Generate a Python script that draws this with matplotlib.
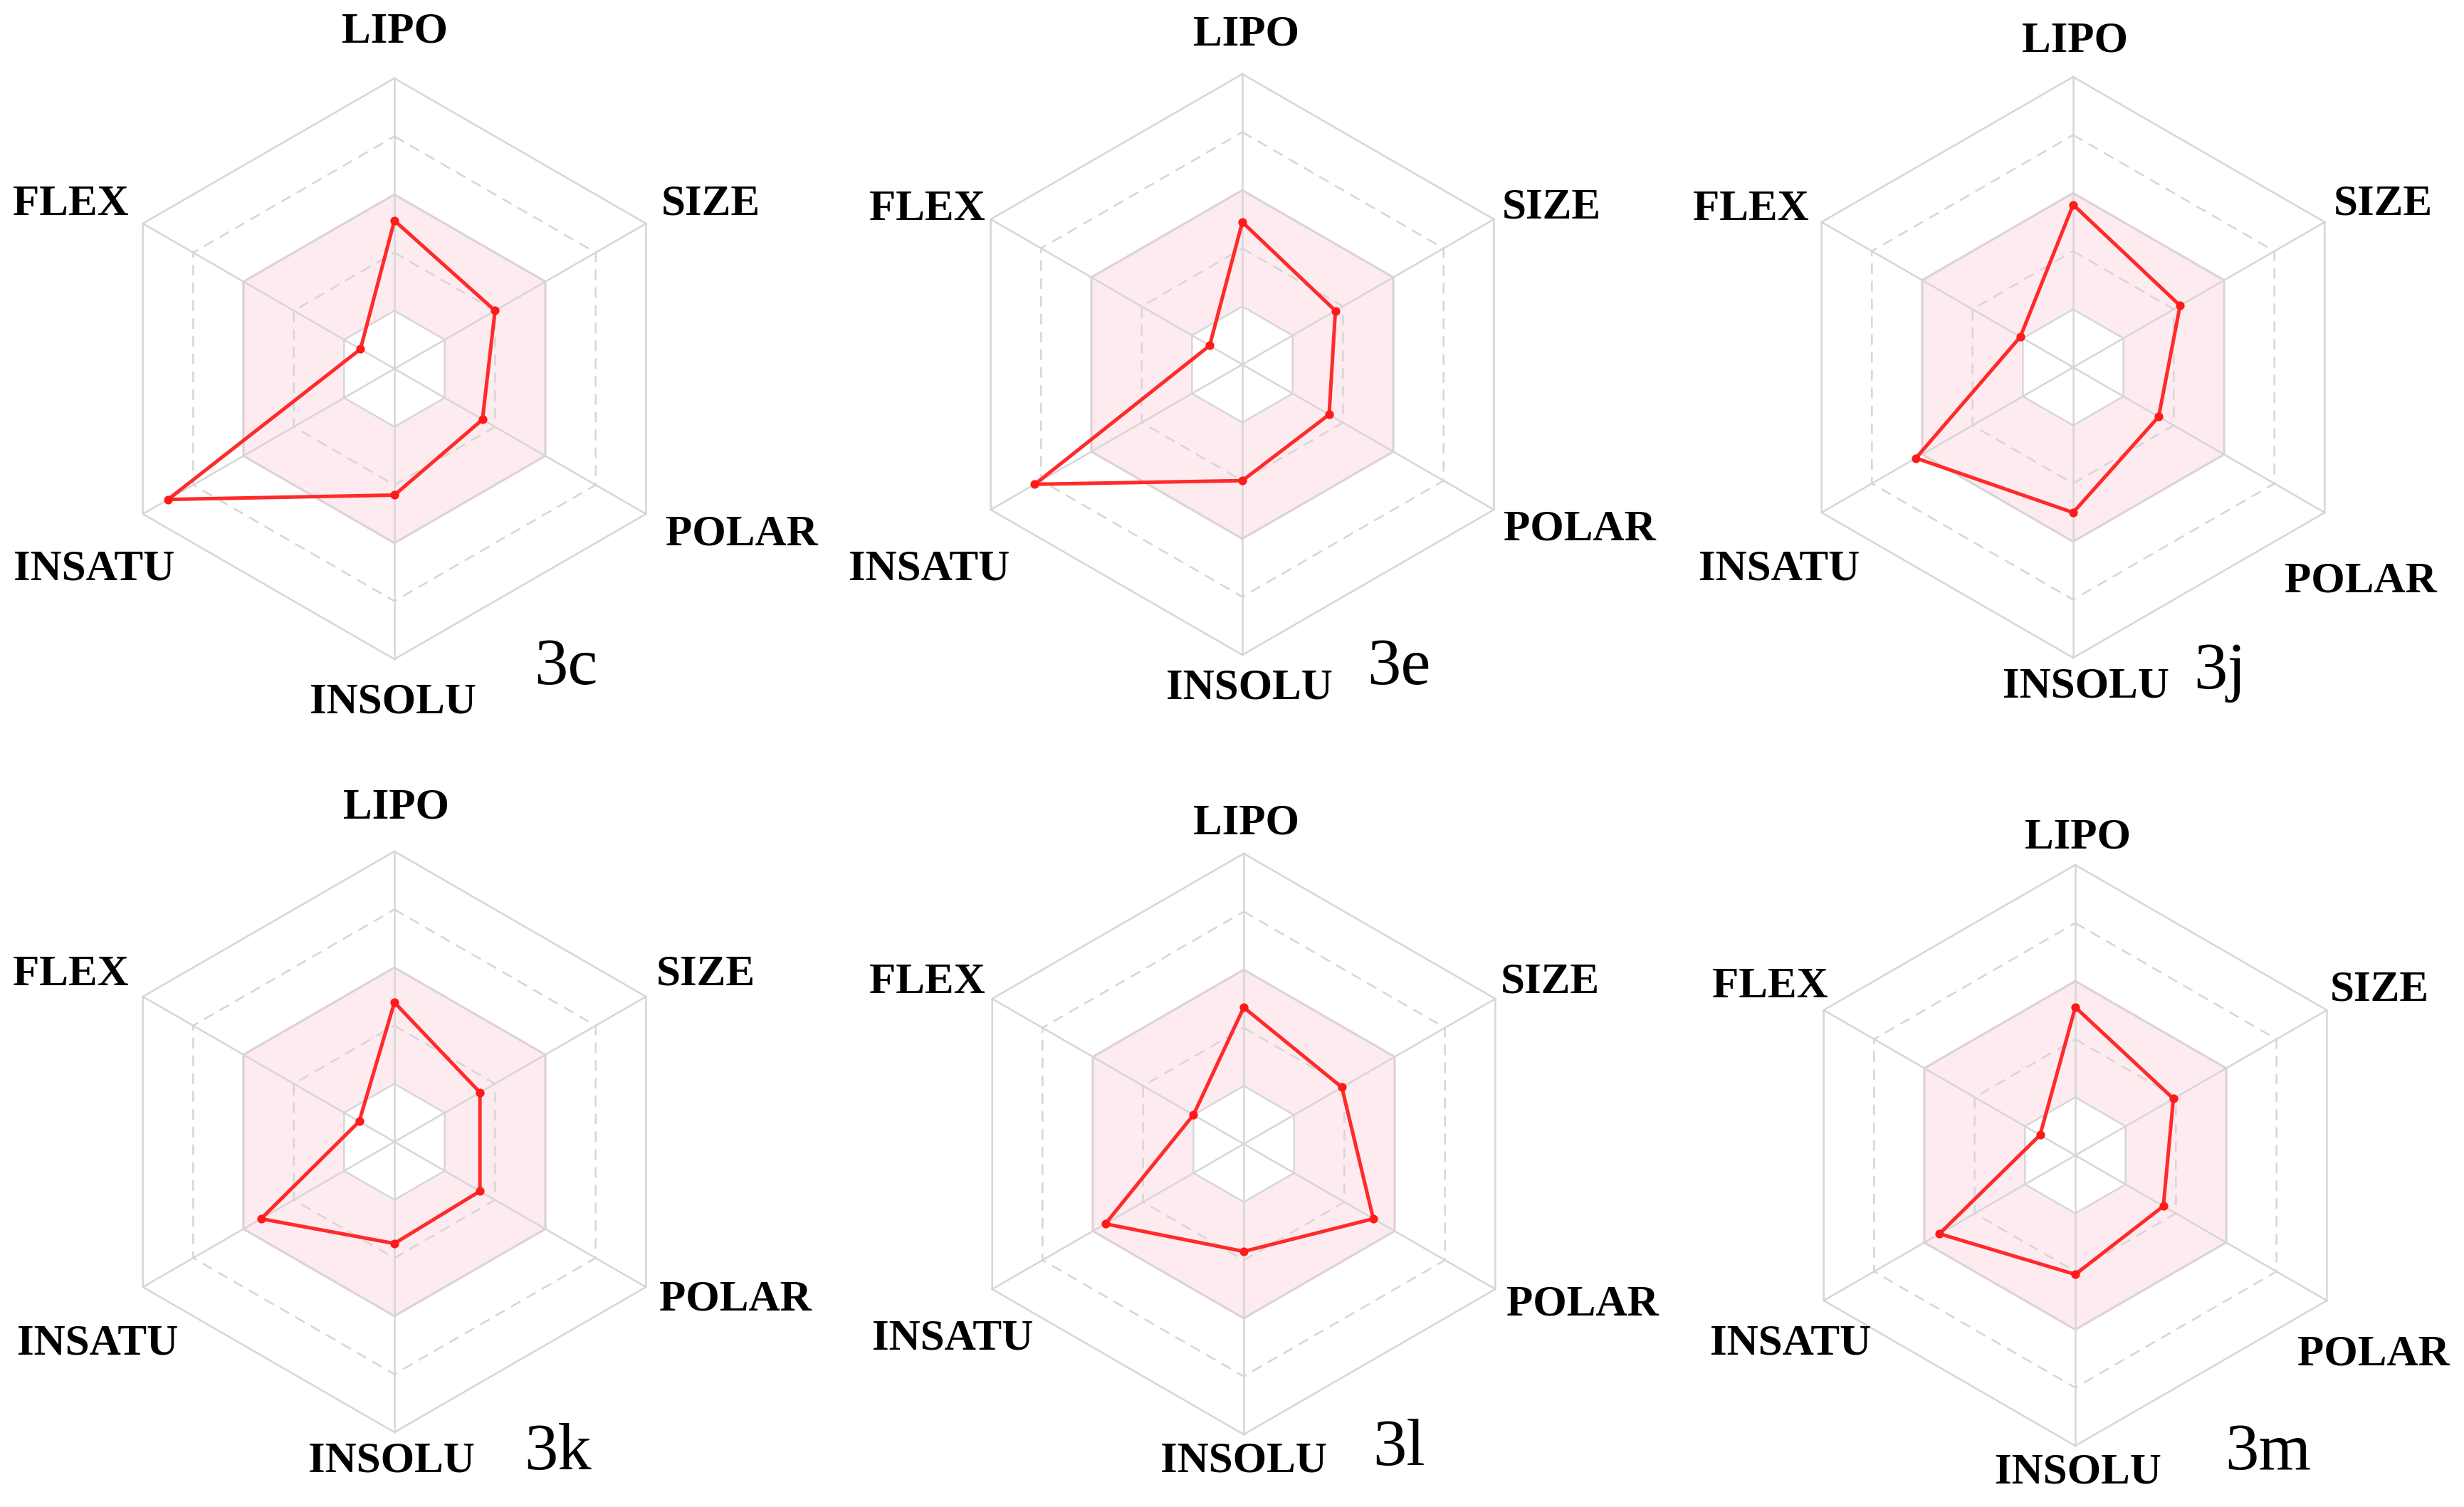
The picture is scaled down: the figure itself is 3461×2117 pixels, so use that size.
import numpy as np
import matplotlib
matplotlib.use("Agg")
import matplotlib.pyplot as plt

# Axes of the bioavailability radar (clockwise from top)
axes_names = ["LIPO", "SIZE", "POLAR", "INSOLU", "INSATU", "FLEX"]
angles_deg = [90, 30, -30, -90, -150, 150]

# Compound ids and values (fraction of the outer hexagon)
compounds = ["3c", "3e", "3j", "3k", "3l", "3m"]
val_3c = [0.51, 0.40, 0.35, 0.435, 0.90, 0.135]
val_3e = [0.49, 0.37, 0.345, 0.40, 0.825, 0.13]
val_3j = [0.56, 0.425, 0.34, 0.50, 0.625, 0.21]
val_3k = [0.48, 0.34, 0.34, 0.35, 0.53, 0.14]
val_3l = [0.47, 0.39, 0.515, 0.37, 0.55, 0.20]
val_3m = [0.51, 0.39, 0.35, 0.41, 0.54, 0.14]
values = [val_3c, val_3e, val_3j, val_3k, val_3l, val_3m]

# optimal range band and grid rings
band_inner, band_outer = 0.2, 0.6
rings = [0.2, 0.4, 0.6, 0.8, 1.0]

W, H = 3462, 2117
dpi = 200
fig = plt.figure(figsize=(W / dpi, H / dpi), dpi=dpi)

# panel centres in pixels and hexagon radius
centers = [(554, 518), (1745, 512), (2912, 516),
           (554, 1604), (1747, 1607), (2915, 1623)]
R = 408
L = 560

# label positions (reference pixels on a 1568x959 preview)
label_pos = [
    {"LIPO": (251, 20), "SIZE": (452, 130), "FLEX": (45, 130), "POLAR": (472, 340),
     "INSATU": (60, 362), "INSOLU": (250, 447), "id": (360, 425)},
    {"LIPO": (793, 22), "SIZE": (987, 132), "FLEX": (590, 133), "POLAR": (1005, 337),
     "INSATU": (591, 362), "INSOLU": (795, 438), "id": (890, 425)},
    {"LIPO": (1320, 26), "SIZE": (1516, 130), "FLEX": (1114, 133), "POLAR": (1502, 370),
     "INSATU": (1132, 362), "INSOLU": (1327, 437), "id": (1412, 428)},
    {"LIPO": (252, 514), "SIZE": (449, 620), "FLEX": (45, 620), "POLAR": (468, 827),
     "INSATU": (62, 855), "INSOLU": (249, 930), "id": (355, 925)},
    {"LIPO": (793, 524), "SIZE": (986, 625), "FLEX": (590, 625), "POLAR": (1007, 830),
     "INSATU": (606, 852), "INSOLU": (791, 930), "id": (890, 922)},
    {"LIPO": (1322, 533), "SIZE": (1514, 630), "FLEX": (1126, 628), "POLAR": (1510, 862),
     "INSATU": (1139, 855), "INSOLU": (1322, 937), "id": (1443, 925)},
]

ang = np.deg2rad(angles_deg)
ux, uy = np.cos(ang), np.sin(ang)
hx = np.append(ux, ux[0])
hy = np.append(uy, uy[0])

grid_col = "#d6d6d6"
for k, name in enumerate(compounds):
    cx, cy = centers[k]
    lim = L / R
    ax = fig.add_axes([(cx - L) / W, 1 - (cy + L) / H, 2 * L / W, 2 * L / H])
    ax.set_xlim(-lim, lim)
    ax.set_ylim(-lim, lim)
    ax.set_aspect("equal")
    ax.axis("off")

    # pink optimal band
    ax.fill(band_outer * hx, band_outer * hy, color="#fdebef", zorder=1)
    ax.fill(band_inner * hx, band_inner * hy, color="white", zorder=1.5)
    ax.plot(band_outer * hx, band_outer * hy, color="#f7c3cd", lw=1.0, zorder=2)

    # grid
    for r in rings:
        ls = "-" if r in (0.2, 0.6, 1.0) else (0, (6, 4))
        ax.plot(r * hx, r * hy, color=grid_col, lw=0.9, ls=ls, zorder=2)
    for i in range(6):
        ax.plot([0, ux[i]], [0, uy[i]], color=grid_col, lw=0.9, zorder=2)

    # compound profile
    v = np.array(values[k])
    px = np.append(v * ux, v[0] * ux[0])
    py = np.append(v * uy, v[0] * uy[0])
    ax.plot(px, py, color="#ff2a2a", lw=1.8, zorder=4)
    ax.plot(v * ux, v * uy, "o", color="#ff1a1a", ms=3.4, zorder=5)

    # axis labels and compound id
    for lab in axes_names:
        x, y = label_pos[k][lab]
        fig.text(x / 1568, 1 - y / 959, lab, ha="center", va="center",
                 fontsize=22, fontweight="bold", family="Liberation Serif")
    x, y = label_pos[k]["id"]
    fig.text(x / 1568, 1 - y / 959, name, ha="center", va="center",
             fontsize=34, family="Liberation Serif")

plt.savefig("out.png", dpi=dpi)
